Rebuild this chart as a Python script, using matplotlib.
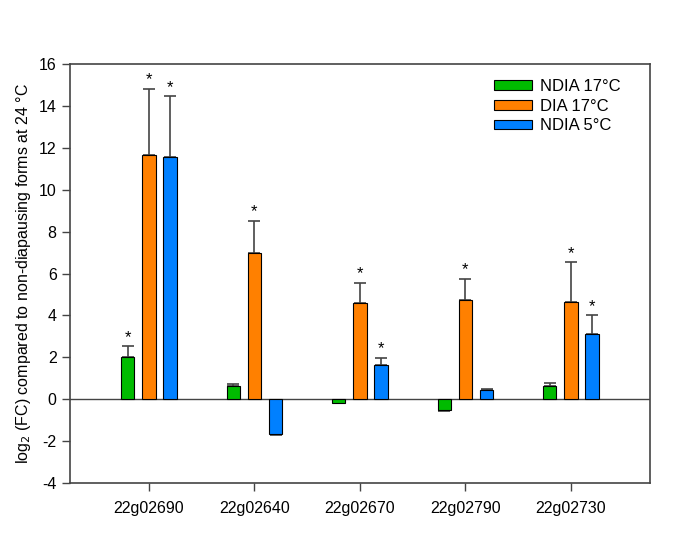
import numpy as np
import matplotlib.pyplot as plt

plt.rcParams['font.family'] = ['Liberation Sans', 'DejaVu Sans']
plt.rcParams['axes.unicode_minus'] = False

genes = ['22g02690', '22g02640', '22g02670', '22g02790', '22g02730']
series = ['NDIA 17°C', 'DIA 17°C', 'NDIA 5°C']
colors = ['#00bb00', '#ff8000', '#0080ff']

ndia17 = [2.02, 0.64, -0.16, -0.52, 0.64]
ndia17_err = [0.5, 0.1, 0.03, 0.03, 0.13]
dia17 = [11.65, 6.98, 4.57, 4.73, 4.65]
dia17_err = [3.18, 1.53, 0.98, 1.03, 1.9]
ndia5 = [11.57, -1.64, 1.65, 0.43, 3.13]
ndia5_err = [2.9, 0.05, 0.34, 0.08, 0.89]

sig_ndia17 = [True, False, False, False, False]
sig_dia17 = [True, True, True, True, True]
sig_ndia5 = [True, False, True, False, True]

values = [ndia17, dia17, ndia5]
errors = [ndia17_err, dia17_err, ndia5_err]
sigs = [sig_ndia17, sig_dia17, sig_ndia5]

fig = plt.figure(figsize=(6.85, 5.34), dpi=100)
ax = fig.add_axes([0.102, 0.0955, 0.847, 0.7845])

x = np.arange(len(genes))
width = 0.125
step = 0.2

for k in range(3) :
	pos = x + (k - 1) * step
	v = np.array(values[k])
	e = np.array(errors[k])
	ax.bar(pos, v, width, color=colors[k], edgecolor='black', linewidth=0.8,
		label=series[k], zorder=3)
	# one-sided error bars: up for positive bars, down for negative ones
	lower = np.where(v < 0, e, 0)
	upper = np.where(v >= 0, e, 0)
	ax.errorbar(pos, v, yerr=[lower, upper], fmt='none', ecolor='#444444',
		elinewidth=1.2, capsize=4, capthick=1.2, zorder=2)
	for p, val, err, s in zip(pos, v, e, sigs[k]) :
		if s :
			ax.annotate('*', (p, val + err), xytext=(0, 1), textcoords='offset points',
				ha='center', va='bottom', fontsize=12)

ax.axhline(0, color='#444444', linewidth=1, zorder=1)

ax.set_xlim(-0.75, 4.75)
ax.set_ylim(-4, 16)
ax.set_yticks(np.arange(-4, 17, 2))
ax.set_xticks(x)
ax.set_xticklabels(genes)
ax.tick_params(axis='both', direction='out', length=6, width=1, colors='#444444',
	labelcolor='black', labelsize=11.5)
ax.tick_params(axis='x', pad=7)
for sp in ax.spines.values() :
	sp.set_color('#444444')
	sp.set_linewidth(1.2)

ax.set_ylabel('log$_2$ (FC) compared to non-diapausing forms at 24 °C', fontsize=11.5)

ax.legend(loc='upper right', bbox_to_anchor=(0.975, 1.0), frameon=False,
	fontsize=12, handlelength=2.3, handleheight=0.5, labelspacing=0.28,
	handletextpad=0.45)

fig.savefig('out.png', dpi=100)
